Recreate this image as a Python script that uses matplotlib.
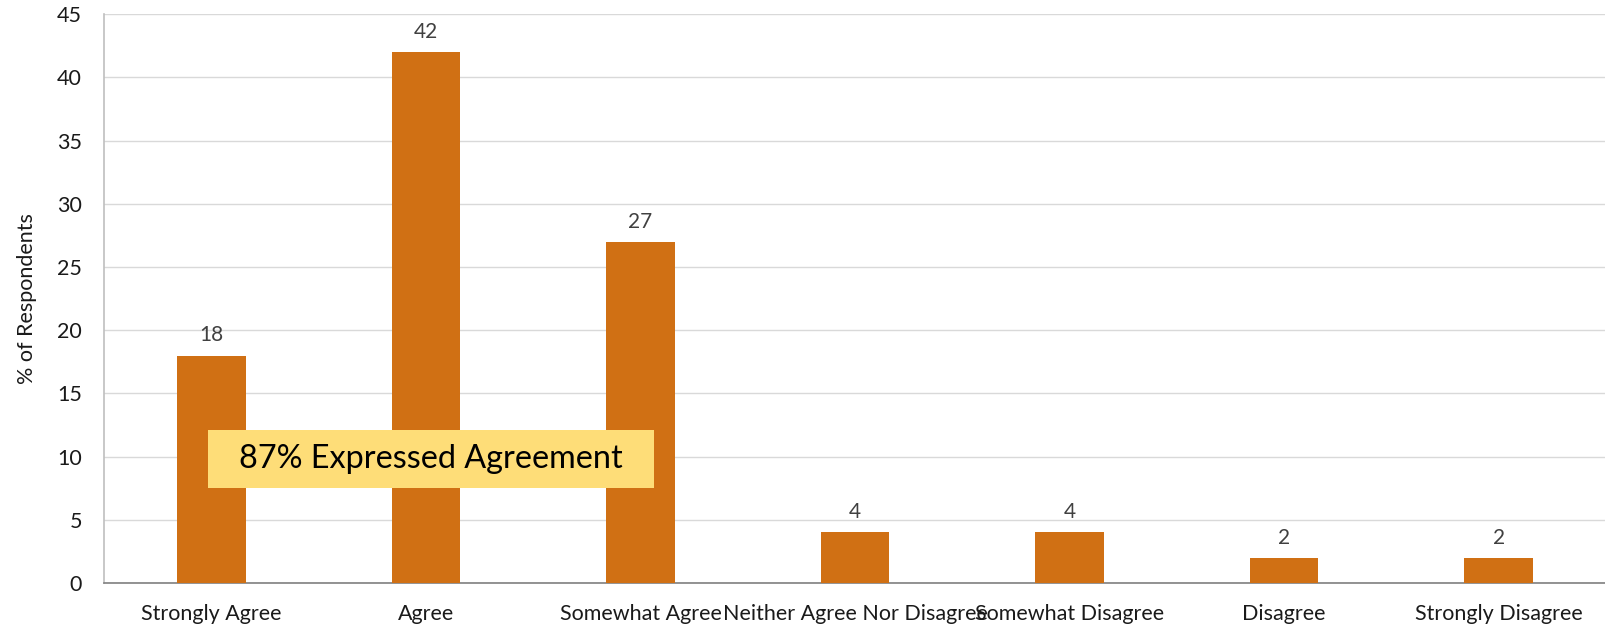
import numpy as np
import matplotlib.pyplot as plt
from matplotlib.patches import Rectangle

plt.rcParams['font.family'] = ['Lato', 'DejaVu Sans']

categories = ["Strongly Agree", "Agree", "Somewhat Agree", "Neither Agree Nor Disagree",
              "Somewhat Disagree", "Disagree", "Strongly Disagree"]
percent = [18, 42, 27, 4, 4, 2, 2]
yticks = [0, 5, 10, 15, 20, 25, 30, 35, 40, 45]
note = "87% Expressed Agreement"

bar_color = "#D07014"

fig = plt.figure(figsize=(16.06, 6.29), dpi=100)
ax = fig.add_axes([0.0648, 0.0731, 0.9352, 0.9042])

x = np.arange(len(categories))
ax.bar(x, percent, width=0.32, color=bar_color, zorder=3)

for xi, v in zip(x, percent):
    ax.text(xi, v + 0.8, str(v), ha="center", va="bottom", fontsize=15, color="#404040")

ax.set_xlim(-0.5, len(categories) - 0.5)
ax.set_ylim(0, 45)
ax.set_yticks(yticks)
ax.set_xticks(x)
ax.set_xticklabels(categories, fontsize=15.5, color="#1a1a1a")
ax.tick_params(axis="y", labelsize=15.5, length=0, pad=16, labelcolor="#1a1a1a")
ax.tick_params(axis="x", length=0, pad=15)
ax.set_ylabel("% of Respondents", fontsize=15.5, color="#1a1a1a", labelpad=14)

ax.grid(axis="y", color="#D9D9D9", linewidth=1, zorder=0)
for s in ["top", "right"]:
    ax.spines[s].set_visible(False)
ax.spines["left"].set_color("#BFBFBF")
ax.spines["bottom"].set_color("#808080")
ax.spines["left"].set_linewidth(1.2)
ax.spines["bottom"].set_linewidth(1.2)

# yellow call-out box
ax.add_patch(Rectangle((-0.015, 7.48), 2.08, 4.61, facecolor="#FEDD78", edgecolor="none", zorder=4))
ax.text(1.025, 9.78, note, ha="center", va="center", fontsize=23.3, color="black", zorder=5)

fig.savefig("out.png", dpi=100)
